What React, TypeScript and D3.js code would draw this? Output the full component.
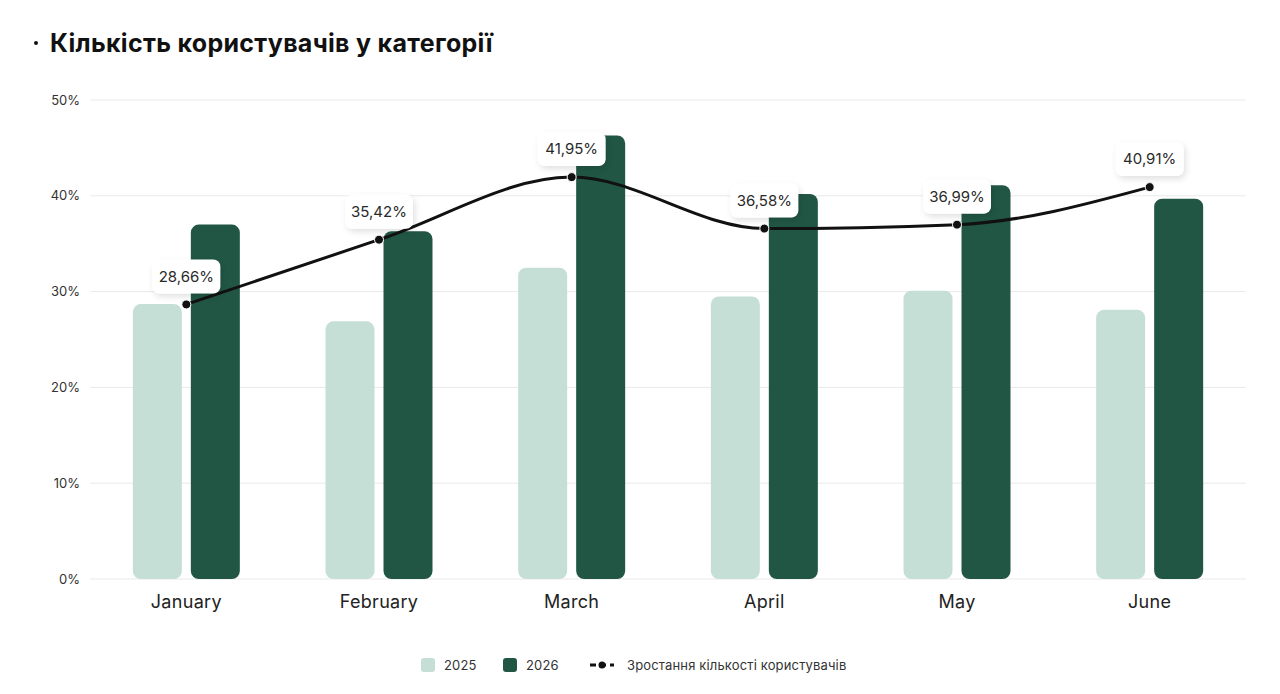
import * as d3 from 'd3'
import { useEffect, useRef } from 'react'

const months = ['January', 'February', 'March', 'April', 'May', 'June']
const values2025 = [28.7, 26.9, 32.5, 29.5, 30.1, 28.1]
const values2026 = [37.0, 36.3, 46.3, 40.2, 41.1, 39.7]
const growth = [28.66, 35.42, 41.95, 36.58, 36.99, 40.91]
const yTicks = [0, 10, 20, 30, 40, 50]
const seriesNames = ['2025', '2026']
const lineName = 'Зростання кількості користувачів'
const title = 'Кількість користувачів у категорії'

const LIGHT = '#c5dfd6'
const DARK = '#215644'
const FONT = 'Inter, "Noto Sans", sans-serif'

const App = () => {
  const ref = useRef<SVGSVGElement>(null)

  useEffect(() => {
    document.body.style.margin = '0'
    const width = 1280
    const height = 694
    const margin = { top: 100, right: 34, bottom: 115, left: 90 }

    const svg = d3.select(ref.current)
    svg.selectAll('*').remove()
    svg.attr('width', width).attr('height', height)

    const defs = svg.append('defs')
    const filter = defs
      .append('filter')
      .attr('id', 'shadow')
      .attr('x', '-30%')
      .attr('y', '-30%')
      .attr('width', '160%')
      .attr('height', '180%')
    filter
      .append('feDropShadow')
      .attr('dx', 2)
      .attr('dy', 3)
      .attr('stdDeviation', 3)
      .attr('flood-color', '#000')
      .attr('flood-opacity', 0.12)

    // title
    svg
      .append('circle')
      .attr('cx', 36)
      .attr('cy', 43)
      .attr('r', 2)
      .attr('fill', '#111')
    svg
      .append('text')
      .attr('x', 50)
      .attr('y', 52)
      .attr('font-family', FONT)
      .attr('font-weight', 700)
      .attr('font-size', 25)
      .attr('letter-spacing', 0.3)
      .attr('fill', '#111')
      .text(title)

    const x = d3
      .scaleBand<string>()
      .domain(months)
      .range([margin.left, width - margin.right])

    const y = d3
      .scaleLinear()
      .domain([0, 50])
      .range([height - margin.bottom, margin.top])

    // grid + y labels
    const grid = svg.append('g')
    grid
      .selectAll('line')
      .data(yTicks)
      .enter()
      .append('line')
      .attr('x1', margin.left)
      .attr('x2', width - margin.right)
      .attr('y1', function (d) {
        return y(d)
      })
      .attr('y2', function (d) {
        return y(d)
      })
      .attr('stroke', '#e9e9e9')
      .attr('stroke-width', 1)
    grid
      .selectAll('text')
      .data(yTicks)
      .enter()
      .append('text')
      .attr('x', 80)
      .attr('y', function (d) {
        return y(d)
      })
      .attr('dy', '0.35em')
      .attr('text-anchor', 'end')
      .attr('font-family', FONT)
      .attr('font-size', 13)
      .attr('fill', '#333')
      .text(function (d) {
        return d + '%'
      })

    // bars
    const barW = 49
    const gap = 9
    const cx = function (m: string) {
      return (x(m) ?? 0) + x.bandwidth() / 2
    }
    const series = [values2025, values2026]
    const colors = [LIGHT, DARK]
    series.forEach(function (vals, s) {
      svg
        .append('g')
        .selectAll('rect')
        .data(vals)
        .enter()
        .append('rect')
        .attr('x', function (_d, i) {
          return s === 0 ? cx(months[i]) - gap / 2 - barW : cx(months[i]) + gap / 2
        })
        .attr('y', function (d) {
          return y(d)
        })
        .attr('width', barW)
        .attr('height', function (d) {
          return y(0) - y(d)
        })
        .attr('rx', 8)
        .attr('fill', colors[s])
    })

    // month labels
    svg
      .append('g')
      .selectAll('text')
      .data(months)
      .enter()
      .append('text')
      .attr('x', function (d) {
        return cx(d)
      })
      .attr('y', 608)
      .attr('text-anchor', 'middle')
      .attr('font-family', FONT)
      .attr('font-size', 18)
      .attr('letter-spacing', 0.3)
      .attr('fill', '#222')
      .text(function (d) {
        return d
      })

    // growth line
    const line = d3
      .line<number>()
      .x(function (_d, i) {
        return cx(months[i])
      })
      .y(function (d) {
        return y(d)
      })
      .curve(d3.curveMonotoneX)

    svg
      .append('path')
      .datum(growth)
      .attr('d', line)
      .attr('fill', 'none')
      .attr('stroke', '#111')
      .attr('stroke-width', 3)

    svg
      .append('g')
      .selectAll('circle')
      .data(growth)
      .enter()
      .append('circle')
      .attr('cx', function (_d, i) {
        return cx(months[i])
      })
      .attr('cy', function (d) {
        return y(d)
      })
      .attr('r', 4.5)
      .attr('fill', '#111')
      .attr('stroke', '#fff')
      .attr('stroke-width', 1)

    // value labels
    const labels = svg
      .append('g')
      .selectAll('g')
      .data(growth)
      .enter()
      .append('g')
      .attr('transform', function (d, i) {
        return 'translate(' + cx(months[i]) + ',' + (y(d) - 28) + ')'
      })
    labels
      .append('rect')
      .attr('x', -34)
      .attr('y', -17)
      .attr('width', 68)
      .attr('height', 34)
      .attr('rx', 7)
      .attr('fill', '#fff')
      .attr('filter', 'url(#shadow)')
    labels
      .append('text')
      .attr('text-anchor', 'middle')
      .attr('dy', '0.35em')
      .attr('font-family', FONT)
      .attr('font-size', 15)
      .attr('fill', '#2a2a2a')
      .text(function (d) {
        return d.toFixed(2).replace('.', ',') + '%'
      })

    // legend
    const legend = svg.append('g').attr('transform', 'translate(0,665)')
    const legendX = [421, 503]
    seriesNames.forEach(function (name, i) {
      legend
        .append('rect')
        .attr('x', legendX[i])
        .attr('y', -7)
        .attr('width', 14)
        .attr('height', 14)
        .attr('rx', 3)
        .attr('fill', colors[i])
      legend
        .append('text')
        .attr('x', legendX[i] + 23)
        .attr('dy', '0.35em')
        .attr('font-family', FONT)
        .attr('font-size', 13)
        .attr('letter-spacing', 0.15)
        .attr('fill', '#333')
        .text(name)
    })
    legend
      .append('line')
      .attr('x1', 590)
      .attr('x2', 614)
      .attr('stroke', '#111')
      .attr('stroke-width', 3)
      .attr('stroke-dasharray', '6 4')
    legend
      .append('circle')
      .attr('cx', 602)
      .attr('r', 3.5)
      .attr('fill', '#111')
    legend
      .append('text')
      .attr('x', 627)
      .attr('dy', '0.35em')
      .attr('font-family', FONT)
      .attr('font-size', 13)
      .attr('letter-spacing', 0.15)
      .attr('fill', '#333')
      .text(lineName)
  }, [])

  return <svg ref={ref} style={{ display: 'block' }}></svg>
}

export default App
